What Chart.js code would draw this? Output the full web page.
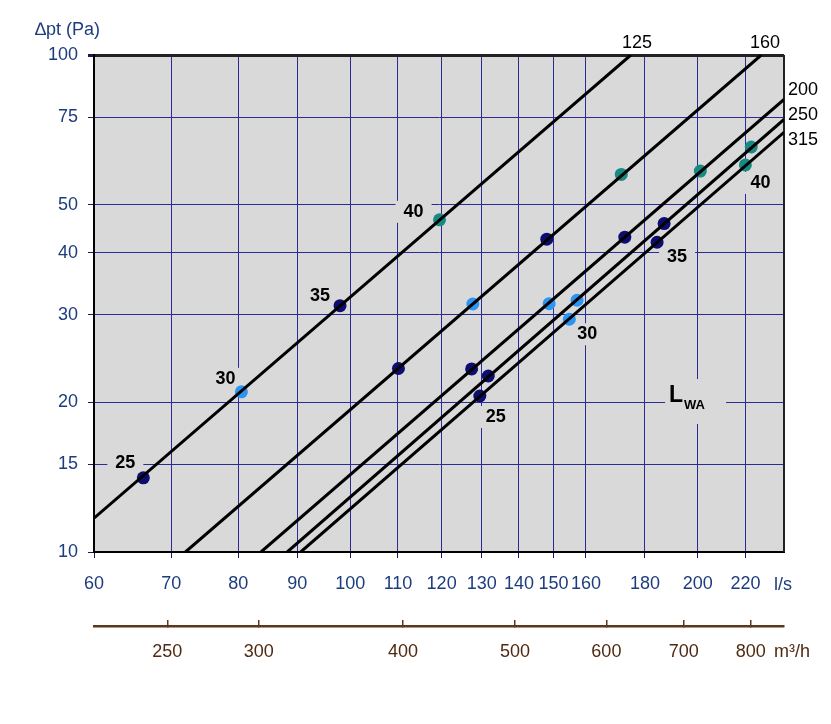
<!DOCTYPE html>
<html>
<head>
<meta charset="utf-8">
<script src="https://cdn.jsdelivr.net/npm/chart.js@4/dist/chart.umd.min.js"></script>
<style>
  html, body { margin: 0; padding: 0; background: #fff; }
</style>
</head>
<body>
<canvas id="myChart" width="831" height="724"></canvas>
<script>
// duct sizes, one straight line each on the log-log plot
var sizes = ['125', '160', '200', '250', '315'];
// line end points: [l/s, Pa]
var lineFrom = [[60, 11.7], [72.0, 10], [83.7, 10], [88.2, 10], [90.6, 10]];
var lineTo = [[175, 100], [227, 100], [237.5, 81.4], [237.5, 74.2], [237.5, 69.9]];

// sound power level marks (LWA) on each line, order 125..315
var levels = ['25', '30', '35', '40'];
var flow25 = [66.2, 110.1, 127.4, 131.7, 129.5];
var pa25 = [14.1, 23.4, 23.35, 22.6, 20.6];
var flow30 = [80.5, 127.7, 148.7, 157.2, 154.8];
var pa30 = [21.0, 31.55, 31.6, 32.1, 29.4];
var flow35 = [98.0, 148.0, 172.9, 187.0, 184.4];
var pa35 = [31.3, 42.6, 43.0, 45.8, 42.0];
var flow40 = [119.5, 171.7, 201.0, 222.5, 219.9];
var pa40 = [46.6, 57.5, 58.4, 65.3, 60.1];

// axis ticks
var xTicks = [60, 70, 80, 90, 100, 110, 120, 130, 140, 150, 160, 180, 200, 220];
var yTicks = [10, 15, 20, 30, 40, 50, 75, 100];
var m3hTicks = [250, 300, 400, 500, 600, 700, 800];

var blue = '#1d3c7e';
var brown = '#4f2a12';
var gridBlue = '#2b2b98';
var plotGrey = '#d9d9d9';
var FONT = '"Liberation Sans", Arial, sans-serif';

function pts(xs, ys) {
  return xs.map(function(x, i) { return { x: x, y: ys[i] }; });
}

var datasets = [];
sizes.forEach(function(s, i) {
  datasets.push({
    type: 'line',
    label: s,
    data: [{ x: lineFrom[i][0], y: lineFrom[i][1] }, { x: lineTo[i][0], y: lineTo[i][1] }],
    borderColor: '#000',
    borderWidth: 3,
    pointRadius: 0,
    fill: false
  });
});
var dotColors = ['#0d0d70', '#2b95f2', '#0d0d70', '#178a84'];
var dotData = [pts(flow25, pa25), pts(flow30, pa30), pts(flow35, pa35), pts(flow40, pa40)];
levels.forEach(function(l, i) {
  datasets.push({
    type: 'scatter',
    label: l,
    data: dotData[i],
    backgroundColor: dotColors[i],
    borderWidth: 0,
    pointRadius: 6.5
  });
});

function boxText(ctx, txt, x, y) {
  ctx.font = 'bold 18px ' + FONT;
  var w = ctx.measureText(txt).width;
  ctx.fillStyle = plotGrey;
  ctx.fillRect(x - w / 2 - 8, y - 11, w + 16, 22);
  ctx.fillStyle = '#000';
  ctx.textAlign = 'center';
  ctx.textBaseline = 'middle';
  ctx.fillText(txt, x, y);
}

// offsets of the level labels from their dots (left group on 125, right group on 315)
var leftOff = [[-18, -15], [-16, -13], [-20, -10], [-26, -8]];
var rightOff = [[16, 21], [18, 15], [20, 15], [15, 18]];

var decor = {
  id: 'decor',
  beforeDraw: function(chart) {
    var a = chart.chartArea, ctx = chart.ctx;
    ctx.save();
    ctx.fillStyle = plotGrey;
    ctx.fillRect(a.left, a.top, a.right - a.left, a.bottom - a.top);
    ctx.restore();
  },
  beforeDatasetsDraw: function(chart) {
    var a = chart.chartArea, ctx = chart.ctx;
    var xs = chart.scales.x, ys = chart.scales.y;
    ctx.save();
    // right frame
    ctx.strokeStyle = '#222';
    ctx.lineWidth = 2;
    ctx.beginPath();
    ctx.moveTo(a.right, a.top);
    ctx.lineTo(a.right, a.bottom);
    ctx.stroke();
    levels.forEach(function(l, i) {
      var p = dotData[i][0];
      boxText(ctx, l, xs.getPixelForValue(p.x) + leftOff[i][0], ys.getPixelForValue(p.y) + leftOff[i][1]);
      var q = dotData[i][4];
      boxText(ctx, l, xs.getPixelForValue(q.x) + rightOff[i][0], ys.getPixelForValue(q.y) + rightOff[i][1]);
    });
    // L_WA
    ctx.fillStyle = plotGrey;
    ctx.fillRect(665, 379, 61, 45);
    ctx.fillStyle = '#000';
    ctx.textAlign = 'left';
    ctx.textBaseline = 'alphabetic';
    ctx.font = 'bold 23px ' + FONT;
    ctx.fillText('L', 669, 402);
    ctx.font = 'bold 13px ' + FONT;
    ctx.fillText('WA', 684, 409);
    ctx.restore();
  },
  afterDraw: function(chart) {
    var ctx = chart.ctx;
    ctx.save();
    ctx.textBaseline = 'middle';
    ctx.font = '18px ' + FONT;
    ctx.fillStyle = '#000';
    ctx.textAlign = 'center';
    ctx.fillText('125', 637, 43);
    ctx.fillText('160', 765, 43);
    ctx.fillText('200', 803, 90);
    ctx.fillText('250', 803, 115);
    ctx.fillText('315', 803, 140);
    ctx.textAlign = 'left';
    ctx.fillStyle = blue;
    ctx.fillText('\u2206pt (Pa)', 35, 30);
    ctx.fillText('l/s', 774, 585);
    ctx.fillStyle = brown;
    ctx.fillText('m\u00b3/h', 774, 652);
    ctx.restore();
  }
};

function setTicks(list) {
  return function(scale) {
    scale.ticks = list.map(function(v) { return { value: v }; });
  };
}

var ctx = document.getElementById('myChart').getContext('2d');
var myChart = new Chart(ctx, {
  data: { datasets: datasets },
  plugins: [decor],
  options: {
    responsive: false,
    animation: false,
    devicePixelRatio: 1,
    layout: { padding: { left: 0, top: 55, right: 47, bottom: 48 } },
    plugins: { legend: { display: false }, tooltip: { enabled: false } },
    scales: {
      x: {
        type: 'logarithmic',
        position: 'bottom',
        min: 60,
        max: 237.5,
        afterBuildTicks: setTicks(xTicks),
        afterFit: function(s) { s.height = 74; },
        ticks: {
          autoSkip: false, maxRotation: 0, color: blue, padding: 15,
          font: { family: FONT, size: 18 },
          callback: function(v) { return String(v); }
        },
        grid: { color: gridBlue, lineWidth: 1, tickLength: 6, tickColor: '#1a1a50' },
        border: { color: '#000', width: 2 }
      },
      x2: {
        type: 'logarithmic',
        position: 'bottom',
        min: 216,
        max: 855,
        afterBuildTicks: setTicks(m3hTicks),
        afterFit: function(s) { s.height = 50; },
        ticks: {
          autoSkip: false, maxRotation: 0, color: brown, padding: 21,
          font: { family: FONT, size: 18 },
          callback: function(v) { return String(v); }
        },
        grid: { drawOnChartArea: false, tickLength: -6, tickColor: '#5a3820', lineWidth: 1.5 },
        border: { color: '#5a3820', width: 2.5 }
      },
      y: {
        type: 'logarithmic',
        position: 'left',
        min: 10,
        max: 100,
        afterBuildTicks: setTicks(yTicks),
        afterFit: function(s) { s.width = 94; },
        ticks: {
          autoSkip: false, color: blue, padding: 10,
          font: { family: FONT, size: 18 },
          callback: function(v) { return String(v); }
        },
        grid: {
          color: function(c) { return c.tick && c.tick.value === 100 ? '#222' : gridBlue; },
          lineWidth: function(c) { return c.tick && c.tick.value === 100 ? 3 : 1; },
          tickLength: 6, tickColor: '#1a1a50'
        },
        border: { color: '#000', width: 2 }
      }
    }
  }
});
</script>
</body>
</html>
